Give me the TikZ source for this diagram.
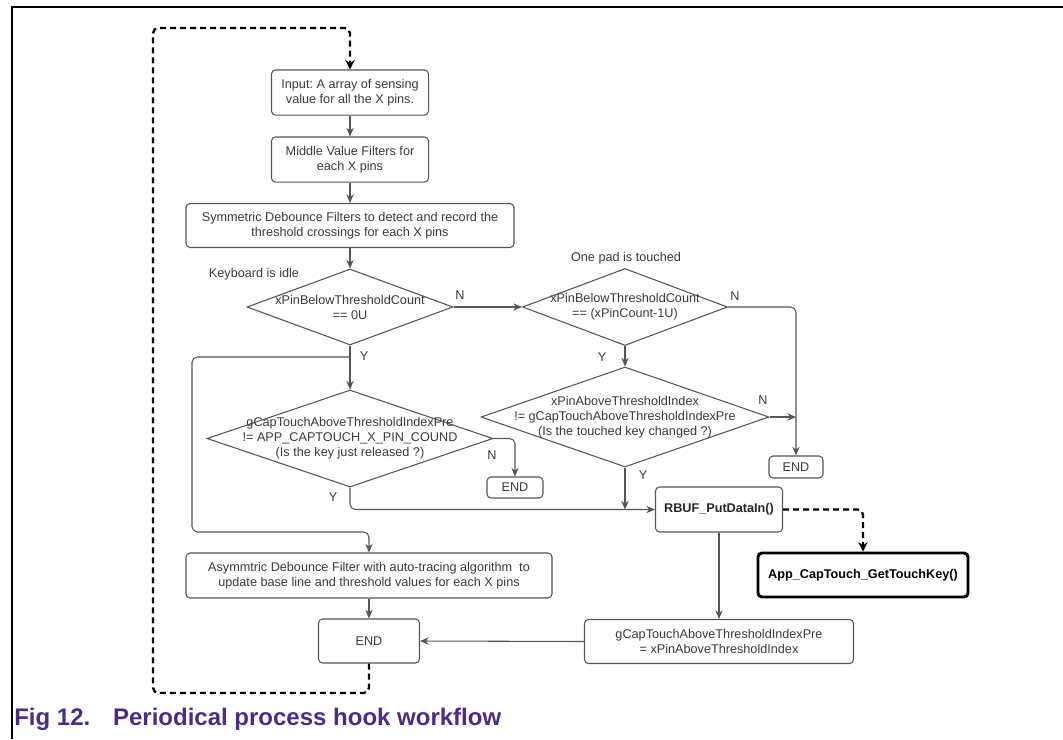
\documentclass[tikz,border=0pt]{standalone}
\usepackage{fontspec}
\setmainfont{Liberation Sans}
\usetikzlibrary{shapes.geometric,arrows.meta}
\definecolor{lg}{HTML}{555555}
\definecolor{tg}{HTML}{3A3A3A}
\definecolor{capc}{HTML}{4F2A85}
\frenchspacing
\begin{document}
\begin{tikzpicture}[x=0.75pt,y=-0.75pt,
  box/.style={draw=lg, line width=0.8pt, rounded corners=3pt, text=tg, font=\fontsize{9.5}{11.25}\selectfont, align=center, inner sep=0pt},
  dia/.style={diamond, draw=lg, line width=0.8pt, inner sep=0pt},
  dtxt/.style={text=tg, font=\fontsize{9.5}{11.25}\selectfont, align=center, inner sep=0pt},
  lbl/.style={text=tg, font=\fontsize{9.5}{11.25}\selectfont, inner sep=0pt},
  arr/.style={draw=lg, line width=0.8pt, -{Stealth[length=6.5pt,width=5.5pt]}},
  dsh/.style={draw=black, line width=1.8pt, dash pattern=on 4.5pt off 3pt, rounded corners=4pt, -{Stealth[length=7pt,width=7pt]}}
]
\useasboundingbox (0,0) rectangle (1063,739);
% frame
\draw[line width=1.5pt] (1063,6.8) -- (11.8,6.8) -- (11.8,739);

% boxes
\node[box, minimum width=117.8pt, minimum height=33.8pt] (in) at (350,92.5) {Input: A array of sensing\\value for all the X pins.};
\node[box, minimum width=117.8pt, minimum height=33.8pt] (mid) at (350,159.5) {Middle Value Filters for\\each X pins};
\node[box, minimum width=246pt, minimum height=33pt] (sym) at (350,225.5) {Symmetric Debounce Filters to detect and record the\\threshold crossings for each X pins};

\node[lbl] (idle) at (254,274) {Keyboard is idle};
\node[lbl] (touched) at (626,258) {One pad is touched};

\node[dia, minimum width=154.5pt, minimum height=57pt] (d1) at (350,307) {};
\node[dtxt] (d1t) at (d1) {xPinBelowThresholdCount\\== 0U};
\node[dia, minimum width=153.75pt, minimum height=57.75pt] (d2) at (625,307) {};
\node[dtxt] (d2t) at (d2) {xPinBelowThresholdCount\\== (xPinCount-1U)};
\node[dia, minimum width=216pt, minimum height=75pt] (d3) at (625,417) {};
\node[dtxt] (d3t) at (d3) {xPinAboveThresholdIndex\\!= gCapTouchAboveThresholdIndexPre\\(Is the touched key changed ?)};
\node[dia, minimum width=214.5pt, minimum height=72.75pt] (d4) at (350,438.5) {};
\node[dtxt] (d4t) at (d4) {gCapTouchAboveThresholdIndexPre\\!= APP\_CAPTOUCH\_X\_PIN\_COUND\\(Is the key just released ?)};

\node[box, minimum width=42pt, minimum height=15.75pt] (end1) at (515,487.5) {END};
\node[box, minimum width=40.5pt, minimum height=16.5pt] (end3) at (796,467) {END};
\node[box, minimum width=95.25pt, minimum height=33.75pt, font=\fontsize{9.5}{11.25}\bfseries\selectfont, text=black!85] (rbuf) at (719,509.5) {RBUF\_PutDataIn()};
\node[box, minimum width=157.5pt, minimum height=33pt, draw=black, line width=2.2pt, font=\fontsize{9.5}{11.25}\bfseries\selectfont, text=black] (app) at (863,575) {App\_CapTouch\_GetTouchKey()};
\node[box, minimum width=201.75pt, minimum height=33pt] (gcap) at (719,641.5) {gCapTouchAboveThresholdIndexPre\\= xPinAboveThresholdIndex};
\node[box, minimum width=274.5pt, minimum height=33.75pt] (asym) at (369,575.5) {Asymmtric Debounce Filter with auto-tracing algorithm\ \ to\\update base line and threshold values for each X pins};
\node[box, minimum width=75.75pt, minimum height=33pt] (end2) at (369,641) {END};

% connectors
\draw[arr] (in) -- (mid);
\draw[arr] (mid) -- (sym);
\draw[arr] (sym) -- (d1);
\draw[arr] (d1.east) -- (d2.west);
\node[lbl] (n1) at (460,295) {N};
\draw[arr, rounded corners=4pt] (d2.east) -| (end3.north);
\node[lbl] (n2) at (735,296) {N};
\draw[arr] (d2.south) -- (d3.north);
\node[lbl] (y2) at (602,357) {Y};
\draw[arr] (d3.east) -- (d3.east -| end3.north);
\node[lbl] (n3) at (763,400) {N};
\draw[arr] (d3.south) -- (d3.south |- rbuf.west);
\node[lbl] (y3) at (643,475) {Y};
\draw[arr] (d1.south) -- (d4.north);
\node[lbl] (y1) at (364,356) {Y};
\coordinate (br) at (350,357);
\coordinate (lc) at (192,532);
\draw[arr, rounded corners=4pt] (br) -| (lc) -| (asym.north);
\draw[arr, rounded corners=4pt] (d4.east) -| (end1.north);
\node[lbl] (n4) at (492,455) {N};
\draw[arr, rounded corners=4pt] (d4.south) |- (rbuf.west);
\node[lbl] (y4) at (333,497) {Y};
\draw[dsh] (rbuf.east) -| (app.north);
\draw[arr] (rbuf.south) -- (gcap.north);
\draw[arr] (gcap.west) -- (end2.east);
\draw[arr] (asym.south) -- (end2.north);
\coordinate (lpb) at (153,693);
\coordinate (lpt) at (153,28);
\draw[dsh] (end2.south) |- (lpb) -- (lpt) -| (in.north);

% caption
\node[anchor=base west, text=capc, font=\fontsize{18}{20}\bfseries\selectfont, inner sep=0pt] (cap) at (14,725) {Fig 12.\hspace{0.95em}Periodical process hook workflow};
\end{tikzpicture}
\end{document}
